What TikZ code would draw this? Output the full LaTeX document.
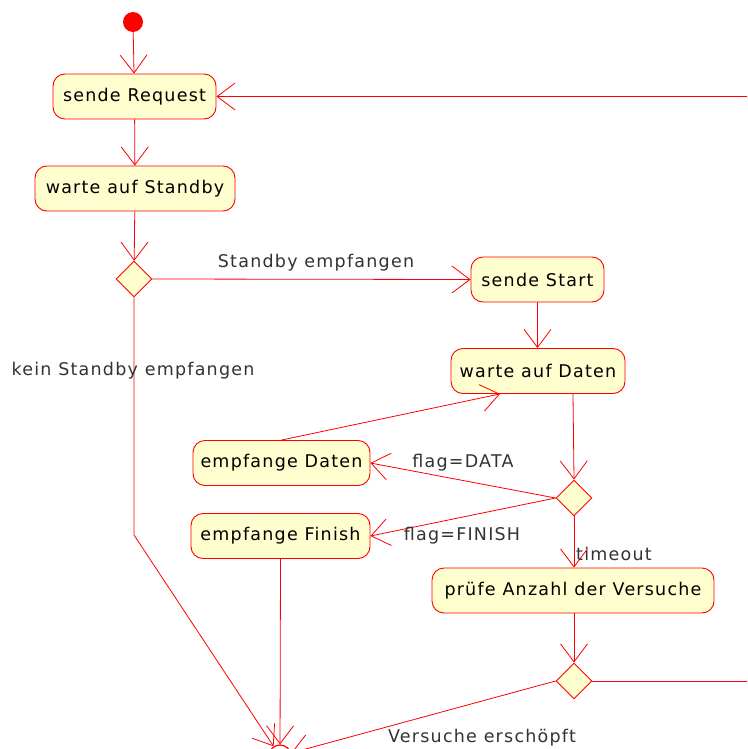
\documentclass[tikz,border=0pt]{standalone}
\usepackage{fontspec}
\setmainfont[LetterSpace=7]{DejaVu Sans}
\usetikzlibrary{arrows.meta,shapes.geometric}
\definecolor{actfill}{HTML}{FEFECE}
\definecolor{actline}{HTML}{FF0000}
\definecolor{lbltext}{HTML}{333333}
\begin{document}
\begin{tikzpicture}[x=1pt,y=-1pt,
  every node/.style={font=\fontsize{17.5}{20}\selectfont},
  action/.style={draw=actline, fill=actfill, rounded corners=12pt, line width=0.9pt,
    minimum height=45pt, inner sep=0pt, text=black},
  branch/.style={draw=actline, fill=actfill, diamond, line width=0.9pt,
    minimum width=36pt, minimum height=36pt, inner sep=0pt},
  flow/.style={draw=actline, line width=0.8pt,
    -{Straight Barb[length=18pt,width=27pt,line width=0.8pt]}},
  lbl/.style={text=lbltext, inner sep=0pt}]
\useasboundingbox (0,0) rectangle (747,749);
\clip (0,0) rectangle (747,749);
\fill[white] (0,0) rectangle (747,749);

% start and end
\node[circle, fill=actline, minimum size=20pt, inner sep=0pt] (start) at (133,22) {};
\node[circle, draw=actline, line width=1.2pt, minimum size=22pt, inner sep=0pt] (stop) at (280,756) {};
\fill[actline] (stop) circle (6pt);

% actions
\node[action, minimum width=163pt] (req) at (134.5,96.5) {sende Request};
\node[action, minimum width=200pt] (wsb) at (135,188.5) {warte auf Standby};
\node[branch] (d1) at (134,279) {};
\node[action, minimum width=133pt] (sst) at (537.5,279.5) {sende Start};
\node[action, minimum width=174pt] (wd) at (538,371) {warte auf Daten};
\node[action, minimum width=177pt] (ed) at (281.5,463) {empfange Daten};
\node[action, minimum width=179pt] (ef) at (280.5,536) {empfange Finish};
\node[branch] (d2) at (574,498) {};
\node[action, minimum width=282pt] (pa) at (573,590.5) {prüfe Anzahl der Versuche};
\node[branch] (d3) at (574,681) {};

% helper points
\coordinate (bend) at (134,535);
\coordinate (loopa) at (780,681);
\coordinate (loopb) at (780,96.5);

% connectors
\draw[flow] (start) -- (req);
\draw[flow] (req) -- (wsb);
\draw[flow] (wsb) -- (d1);
\draw[flow] (d1.east) -- (sst.west);
\draw[flow] (d1.south) -- (bend) -- (stop);
\draw[flow] (sst) -- (wd.north -| sst);
\draw[flow] ([xshift=35pt]wd.south) -- (d2.north);
\draw[flow] (d2.west) -- (ed.east);
\draw[flow] (d2.west) -- (ef.east);
\draw[flow] (ed.north) -- ([xshift=-38pt]wd.south);
\draw[flow] (d2.south) -- (pa.north -| d2);
\draw[flow] (pa.south -| d3) -- (d3.north);
\draw[flow] (ef.south) -- (stop);
\draw[flow] (d3.west) -- (stop);
\draw[flow] (d3.east) -- (loopa) -- (loopb) -- (req.east);

% edge labels
\node[lbl] (l1) at (316,263) {Standby empfangen};
\node[lbl] (l2) at (133,371) {kein Standby empfangen};
\node[lbl] (l3) at (463,463) {flag=DATA};
\node[lbl] (l4) at (462,536) {flag=FINISH};
\node[lbl, anchor=west] (l5) at (576,554) {timeout};
\node[lbl] (l6) at (482,738) {Versuche erschöpft};
\end{tikzpicture}
\end{document}
